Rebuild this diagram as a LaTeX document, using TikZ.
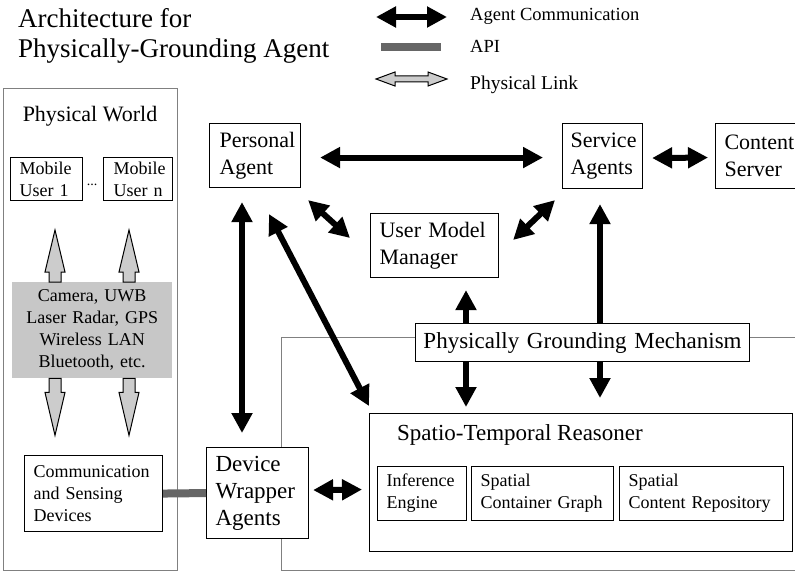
\documentclass[tikz,border=0pt]{standalone}
\usepackage{fontspec}
\setmainfont{Liberation Serif}
\usetikzlibrary{arrows.meta,calc}

\begin{document}
\begin{tikzpicture}[x=1pt,y=-1pt,
  box/.style={draw, line width=1.1pt, fill=white, anchor=north west, align=left, inner ysep=0pt},
  fa/.style={font=\fontsize{22}{27}\selectfont},
  fc/.style={font=\fontsize{23}{27}\selectfont},
  fb/.style={font=\fontsize{18}{22}\selectfont},
  fl/.style={font=\fontsize{18.5}{22}\selectfont},
  frame/.style={draw=black!50, line width=1pt},
  acomm/.style={line width=6pt, {Triangle[length=20pt,width=20pt]}-{Triangle[length=20pt,width=20pt]}},
  api/.style={line width=8pt, draw=black!60},
  plink/.style={draw=black, line width=1pt, fill=black!20, line join=miter},
]
\useasboundingbox (0,0) rectangle (795,572);
\clip (0,0) rectangle (795,572);

% title
\node[font=\fontsize{27}{30}\selectfont, anchor=base west, inner sep=0pt] (title1) at (18,28) {Architecture for};
\node[font=\fontsize{27}{30}\selectfont, anchor=base west, inner sep=0pt] (title2) at (18,58) {Physically-Grounding Agent};

% legend
\coordinate (lga) at (376,17);
\coordinate (lgb) at (447,17);
\draw[acomm] (lga) -- (lgb);
\node[fl, anchor=base west, inner sep=0pt] (lgt1) at (470,21) {Agent Communication};
\coordinate (lgc) at (381,47);
\coordinate (lgd) at (441,47);
\draw[api] (lgc) -- (lgd);
\node[fl, anchor=base west, inner sep=0pt] (lgt2) at (470,53) {API};
\coordinate (lge) at (376,79);
\draw[plink] (lge) -- ++(19,-7) -- ++(0,4) -- ++(33,0) -- ++(0,-4) -- ++(19,7)
  -- ++(-19,7) -- ++(0,-4) -- ++(-33,0) -- ++(0,4) -- cycle;
\node[font=\fontsize{19.5}{22}\selectfont, anchor=base west, inner sep=0pt] (lgt3) at (470,90) {Physical Link};

% physical world frame
\node[frame, anchor=north west, minimum width=174pt, minimum height=482pt, inner sep=0pt] (pw) at (3,88) {};
\node[fa, anchor=base, inner sep=0pt] (pwt) at (90,122) {Physical World};

% agent-side region frame
\coordinate (ra) at (800,337);
\coordinate (rb) at (281,337);
\coordinate (rc) at (281,570);
\coordinate (rd) at (800,570);
\draw[frame] (ra) -- (rb) -- (rc) -- (rd);

% physical world contents
\node[box, fb, inner xsep=9pt, text width=54pt, minimum height=43pt] (mu1) at (10,157) {Mobile\\User 1};
\node[box, fb, inner xsep=10pt, text width=49pt, minimum height=43pt] (mun) at (103,157) {Mobile\\User n};
\node[font=\fontsize{14}{14}\selectfont, anchor=base, inner sep=0pt] (dots) at (92,186) {...};
\node[fill=black!22, fb, align=center, anchor=north west, text width=160pt, minimum height=96pt, inner sep=0pt] (sens) at (12,282)
  {Camera, UWB\\Laser Radar, GPS\\Wireless LAN\\Bluetooth, etc.};
\node[box, fb, inner xsep=9pt, text width=120pt, minimum height=76pt] (csd) at (24,455) {Communication\\and Sensing\\Devices};

% physical links
\draw[plink] (sens.north west) ++(37,0) -- ++(0,-10) -- ++(-4,0) -- ++(10,-42) -- ++(10,42) -- ++(-4,0) -- ++(0,10) -- cycle;
\draw[plink] (sens.north west) ++(111,0) -- ++(0,-10) -- ++(-4,0) -- ++(10,-42) -- ++(10,42) -- ++(-4,0) -- ++(0,10) -- cycle;
\draw[plink] (sens.south west) ++(37,0) -- ++(0,14) -- ++(-4,0) -- ++(10,43) -- ++(10,-43) -- ++(-4,0) -- ++(0,-14) -- cycle;
\draw[plink] (sens.south west) ++(111,0) -- ++(0,14) -- ++(-4,0) -- ++(10,43) -- ++(10,-43) -- ++(-4,0) -- ++(0,-14) -- cycle;

% agents
\node[box, fa, inner xsep=10pt, text width=71pt, minimum height=64pt] (pa) at (209,123) {Personal\\Agent};
\node[box, fa, inner xsep=8pt, text width=64pt, minimum height=65pt] (sa) at (562,123) {Service\\Agents};
\node[box, fa, inner xsep=9pt, text width=82pt, minimum height=65pt] (cs) at (715,123) {Content\\Server};
\node[box, fa, inner xsep=9pt, text width=110pt, minimum height=64pt] (umm) at (370,213) {User Model\\Manager};
\node[box, fc, inner xsep=9pt, text width=84pt, minimum height=91pt] (dwa) at (206,447) {Device\\Wrapper\\Agents};

% spatio-temporal reasoner
\node[box, minimum width=423pt, minimum height=138pt, inner sep=0pt] (str) at (369,413) {};
\node[fc, anchor=base west, inner sep=0pt] (strt) at (397,440) {Spatio-Temporal Reasoner};
\node[box, fb, inner xsep=9pt, text width=71pt, minimum height=54pt] (ie) at (377,466) {Inference\\Engine};
\node[box, fb, inner xsep=9pt, text width=124pt, minimum height=54pt] (scg) at (471,466) {Spatial\\Container Graph};
\node[box, fb, inner xsep=9pt, text width=146pt, minimum height=54pt] (scr) at (619,466) {Spatial\\Content Repository};

% API link
\draw[api] (csd.east) -- (dwa.west);

% agent communication
\draw[acomm] ($(pa.east)+(19,2)$) -- ($(sa.west)+(-19,1.5)$);
\draw[acomm] ($(sa.east)+(9,2)$) -- ($(cs.west)+(-7,1.5)$);
\draw[acomm] ($(pa.south east)+(7,12)$) -- ($(umm.north west)+(-20,25)$);
\draw[acomm] ($(sa.south west)+(-7,11)$) -- ($(umm.north east)+(14,27)$);
\draw[acomm] ($(pa.south west)+(33,14)$) -- ($(dwa.north west)+(36,-14)$);
\draw[acomm] ($(pa.south west)+(60,26)$) -- ($(str.north west)+(0,-7)$);
\draw[acomm] ($(umm.south west)+(96,12)$) -- ($(str.north west)+(97,-6)$);
\draw[acomm] ($(sa.south west)+(38,15)$) -- ($(str.north west)+(231,-15)$);
\draw[acomm] ($(dwa.east)+(4,-3)$) -- ($(str.west)+(-7,7)$);

% grounding mechanism on top of the vertical links
\node[box, fc, align=center, inner xsep=0pt, text width=334pt, minimum height=38pt] (pgm) at (415,323) {Physically Grounding Mechanism};
\end{tikzpicture}
\end{document}
